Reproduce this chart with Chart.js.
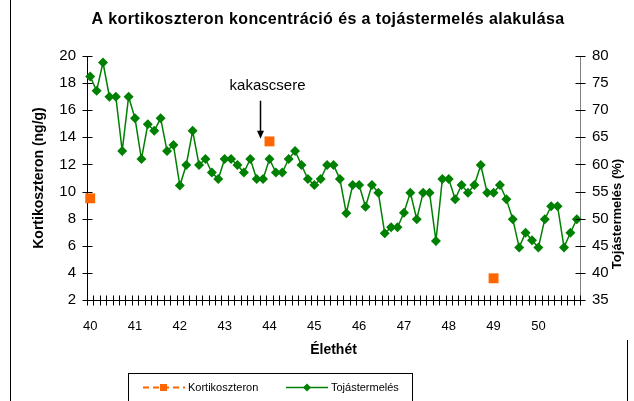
<!DOCTYPE html>
<html>
<head>
<meta charset="utf-8">
<script src="https://cdn.jsdelivr.net/npm/chart.js@4.4.1/dist/chart.umd.min.js"></script>
<style>
  html, body { margin: 0; padding: 0; background: #fff; }
  #wrap { position: relative; width: 634px; height: 401px; }
</style>
</head>
<body>
<div id="wrap"><canvas id="c" width="634" height="401"></canvas></div>
<script>
// ---- Data ----
const chartTitle = 'A kortikoszteron koncentráció és a tojástermelés alakulása';
const xTitle = 'Élethét';
const yLeftTitle = 'Kortikoszteron (ng/g)';
const yRightTitle = 'Tojástermelés (%)';
const weekLabels = ['40','41','42','43','44','45','46','47','48','49','50'];
const daysPerWeek = 7;
const dayCount = 77;

// Tojástermelés (%) – one value per day
const eggProduction = [
  76.2, 73.6, 78.8, 72.5, 72.5, 62.5, 72.5,
  68.5, 61.0, 67.4, 66.2, 68.5, 62.5, 63.6,
  56.1, 59.9, 66.2, 59.9, 61.0, 58.5, 57.3,
  61.0, 61.0, 59.9, 58.5, 61.0, 57.3, 57.3,
  61.0, 58.5, 58.5, 61.0, 62.5, 59.9, 57.3,
  56.2, 57.3, 59.9, 59.9, 57.3, 51.0, 56.2,
  56.2, 52.2, 56.2, 54.8, 47.3, 48.4, 48.4,
  51.1, 54.8, 49.9, 54.8, 54.8, 45.9, 57.3,
  57.3, 53.6, 56.2, 54.8, 56.2, 59.9, 54.8,
  54.8, 56.2, 53.6, 49.9, 44.7, 47.4, 46.0,
  44.7, 49.9, 52.3, 52.3, 44.7, 47.4, 49.9
];

// Kortikoszteron (ng/g) – measured on three days
const corticoDayIndex = [0, 28, 63];
const corticoValues = [9.5, 13.7, 3.6];

// Annotation
const annotationText = 'kakascsere';
const annotationTextPos = { idx: 27.7, value: 17.5 };
const annotationArrow = { idx: 26.5, from: 16.7, to: 13.9 };

// ---- Build tables ----
const dayLabels = [];
for (let i = 0; i < dayCount; i++) {
  dayLabels.push(i % daysPerWeek === 0 ? weekLabels[i / daysPerWeek] : '');
}
const corticoSeries = new Array(dayCount).fill(null);
corticoDayIndex.forEach((d, k) => { corticoSeries[d] = corticoValues[k]; });

const ORANGE = '#FF6600';
const GREEN = '#008000';
const FONT = "'Liberation Sans', Arial, sans-serif";

const framePlugin = {
  id: 'frame',
  beforeDraw(chart) {
    const ctx = chart.ctx;
    ctx.save();
    ctx.fillStyle = '#fff';
    ctx.fillRect(0, 0, chart.width, chart.height);
    ctx.strokeStyle = '#000';
    ctx.lineWidth = 1;
    ctx.beginPath();
    ctx.moveTo(10.5, 0); ctx.lineTo(10.5, chart.height);
    ctx.moveTo(627.5, 340); ctx.lineTo(627.5, chart.height);
    ctx.stroke();
    ctx.restore();
  },
  afterDraw(chart) {
    const ctx = chart.ctx;
    const xs = chart.scales.x, yl = chart.scales.y, yr = chart.scales.y1;
    ctx.save();

    // chart title
    ctx.fillStyle = '#000';
    ctx.font = 'bold 16px ' + FONT;
    ctx.textAlign = 'center';
    ctx.textBaseline = 'middle';
    if ('letterSpacing' in ctx) ctx.letterSpacing = '0.4px';
    ctx.fillText(chartTitle, 328, 20);
    if ('letterSpacing' in ctx) ctx.letterSpacing = '0px';

    ctx.lineWidth = 1;
    // x tick marks crossing the axis (category boundaries)
    ctx.strokeStyle = '#000';
    ctx.beginPath();
    const yb = Math.round(xs.top) + 0.5;
    for (let i = 0; i <= dayCount; i++) {
      const px = Math.round(xs.getPixelForValue(i - 0.5)) + 0.5;
      ctx.moveTo(px, yb - 5); ctx.lineTo(px, yb + 5);
    }
    ctx.stroke();
    // left y ticks
    ctx.beginPath();
    const xl = Math.round(yl.right) + 0.5;
    yl.ticks.forEach(t => {
      const py = Math.round(yl.getPixelForValue(t.value)) + 0.5;
      ctx.moveTo(xl - 5, py); ctx.lineTo(xl + 5, py);
    });
    ctx.stroke();
    // right y ticks
    ctx.beginPath();
    const xr = Math.round(yr.left) + 0.5;
    yr.ticks.forEach(t => {
      const py = Math.round(yr.getPixelForValue(t.value)) + 0.5;
      ctx.moveTo(xr - 5, py); ctx.lineTo(xr + 5, py);
    });
    ctx.stroke();

    // right axis title (reads bottom-to-top)
    ctx.save();
    ctx.translate(617.5, (yr.top + yr.bottom) / 2 + 36);
    ctx.rotate(-Math.PI / 2);
    ctx.fillStyle = '#000';
    ctx.font = 'bold 13px ' + FONT;
    ctx.textAlign = 'center';
    ctx.textBaseline = 'middle';
    ctx.fillText(yRightTitle, 0, 0);
    ctx.restore();

    // annotation
    ctx.fillStyle = '#000';
    ctx.font = '15px ' + FONT;
    ctx.textAlign = 'center';
    ctx.textBaseline = 'alphabetic';
    ctx.fillText(annotationText, xs.getPixelForValue(annotationTextPos.idx), yl.getPixelForValue(annotationTextPos.value));
    const ax = Math.round(xs.getPixelForValue(annotationArrow.idx)) + 0.5;
    const ay1 = yl.getPixelForValue(annotationArrow.from);
    const ay2 = yl.getPixelForValue(annotationArrow.to);
    ctx.strokeStyle = '#000';
    ctx.lineWidth = 1.5;
    ctx.beginPath();
    ctx.moveTo(ax, ay1); ctx.lineTo(ax, ay2 - 6);
    ctx.stroke();
    ctx.beginPath();
    ctx.moveTo(ax - 3.5, ay2 - 8); ctx.lineTo(ax + 3.5, ay2 - 8); ctx.lineTo(ax, ay2); ctx.closePath();
    ctx.fill();

    // legend
    const lx = 128.5, ly = 373.5, lw = 284, lh = 40;
    ctx.lineWidth = 1;
    ctx.strokeStyle = '#000';
    ctx.strokeRect(lx, ly, lw, lh);
    const cy = 387.5;
    // Kortikoszteron
    ctx.strokeStyle = ORANGE;
    ctx.lineWidth = 2;
    ctx.setLineDash([6, 4]);
    ctx.beginPath(); ctx.moveTo(143, cy); ctx.lineTo(185, cy); ctx.stroke();
    ctx.setLineDash([]);
    ctx.fillStyle = ORANGE;
    ctx.fillRect(160, cy - 3.5, 7, 7);
    ctx.fillStyle = '#000';
    ctx.font = '11px ' + FONT;
    ctx.textAlign = 'left';
    ctx.textBaseline = 'middle';
    ctx.fillText('Kortikoszteron', 188, cy);
    // Tojástermelés
    ctx.strokeStyle = GREEN;
    ctx.lineWidth = 1.5;
    ctx.beginPath(); ctx.moveTo(286, cy); ctx.lineTo(328, cy); ctx.stroke();
    ctx.fillStyle = GREEN;
    ctx.beginPath();
    ctx.moveTo(307, cy - 4); ctx.lineTo(311, cy); ctx.lineTo(307, cy + 4); ctx.lineTo(303, cy); ctx.closePath();
    ctx.fill();
    ctx.fillStyle = '#000';
    ctx.fillText('Tojástermelés', 331, cy);
    ctx.restore();
  }
};

new Chart(document.getElementById('c'), {
  type: 'line',
  data: {
    labels: dayLabels,
    datasets: [
      {
        label: 'Kortikoszteron',
        data: corticoSeries,
        yAxisID: 'y',
        borderColor: ORANGE,
        backgroundColor: ORANGE,
        borderDash: [6, 4],
        borderWidth: 2,
        pointStyle: 'rect',
        pointRadius: 7,
        pointBorderWidth: 0,
        spanGaps: false
      },
      {
        label: 'Tojástermelés',
        data: eggProduction,
        yAxisID: 'y1',
        borderColor: GREEN,
        backgroundColor: GREEN,
        borderWidth: 1.5,
        pointStyle: 'rectRot',
        pointRadius: 5,
        pointBorderWidth: 0,
        tension: 0
      }
    ]
  },
  options: {
    responsive: false,
    animation: false,
    devicePixelRatio: 1,
    layout: { padding: { top: 56, left: 0, right: 0, bottom: 36 } },
    plugins: {
      legend: { display: false },
      tooltip: { enabled: false },
      title: { display: false }
    },
    scales: {
      x: {
        type: 'category',
        offset: true,
        grid: { display: false, drawTicks: false },
        border: { display: true, color: '#000', width: 1 },
        ticks: {
          autoSkip: false,
          maxRotation: 0,
          minRotation: 0,
          padding: 19,
          color: '#000',
          font: { family: FONT, size: 13 }
        },
        title: {
          display: true,
          text: xTitle,
          color: '#000',
          font: { family: FONT, size: 14, weight: 'bold' },
          padding: { top: 0, bottom: 6 }
        },
        afterFit(s) { s.height = 65; }
      },
      y: {
        position: 'left',
        min: 2, max: 20,
        grid: { display: false, drawTicks: false },
        border: { display: true, color: '#000', width: 1 },
        ticks: {
          stepSize: 2,
          padding: 11,
          color: '#000',
          font: { family: FONT, size: 15 }
        },
        title: {
          display: true,
          text: yLeftTitle,
          color: '#000',
          font: { family: FONT, size: 14, weight: 'bold' },
          padding: { top: 31, bottom: 0 }
        },
        afterFit(s) { s.width = 87; }
      },
      y1: {
        position: 'right',
        min: 35, max: 80,
        grid: { display: false, drawTicks: false },
        border: { display: true, color: '#808080', width: 1 },
        ticks: {
          stepSize: 5,
          padding: 12,
          color: '#000',
          font: { family: FONT, size: 15 }
        },
        title: { display: false },
        afterFit(s) { s.width = 54; }
      }
    }
  },
  plugins: [framePlugin]
});
</script>
</body>
</html>
